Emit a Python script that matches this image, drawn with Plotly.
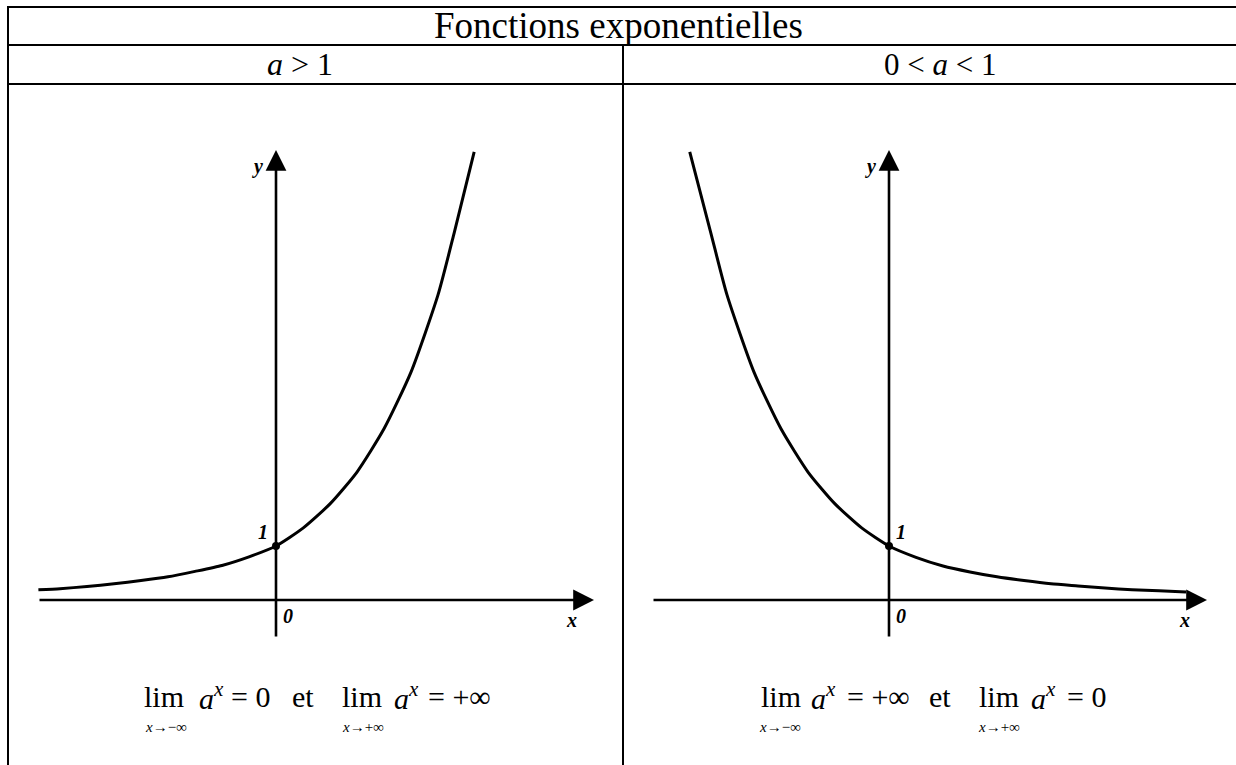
import plotly.graph_objects as go

# ---- data (in axis units; 1 unit = distance from 0 to 1) ----
title_text = "Fonctions exponentielles"
col_headers = ["<i>a</i> > 1", "0 < <i>a</i> < 1"]

x_growth = [-4.4, -4.0, -3.5, -3.0, -2.5, -2.0, -1.5, -1.0, -0.5, 0.0, 0.5, 1.0, 1.5, 2.0, 2.5, 3.0, 3.3, 3.67]
y_growth = [0.19, 0.21, 0.25, 0.30, 0.36, 0.43, 0.53, 0.64, 0.80, 1.00, 1.33, 1.78, 2.37, 3.17, 4.22, 5.65, 6.80, 8.30]

x_decay = [-3.69, -3.3, -3.0, -2.5, -2.0, -1.5, -1.0, -0.5, 0.0, 0.5, 1.0, 1.5, 2.0, 2.5, 3.0, 3.5, 4.0, 4.5, 5.0, 5.5]
y_decay = [8.30, 6.80, 5.65, 4.22, 3.17, 2.37, 1.78, 1.33, 1.00, 0.79, 0.63, 0.52, 0.43, 0.36, 0.30, 0.26, 0.22, 0.19, 0.17, 0.15]

point_x = [0.0]
point_y = [1.0]

W, H = 1236, 765
UNIT = 54.0  # px per unit


def px(x):
    return x / W


def py(y):
    return 1 - y / H


fig = go.Figure()

SERIF = "Liberation Serif, Times New Roman, serif"

panels = [
    dict(xa="x", ya="y", xd=(20, 610), ox=276, xs=x_growth, ys=y_growth,
         xaxis_start=38, xaxis_tip=594, one_dx=-0.24),
    dict(xa="x2", ya="y2", xd=(630, 1230), ox=889, xs=x_decay, ys=y_decay,
         xaxis_start=652, xaxis_tip=1207, one_dx=0.22),
]
oy = 600
yd = (100, 640)

layout_axes = {}
annotations = []
for i, p in enumerate(panels):
    xr = [(p["xd"][0] - p["ox"]) / UNIT, (p["xd"][1] - p["ox"]) / UNIT]
    yr = [(oy - yd[1]) / UNIT, (oy - yd[0]) / UNIT]
    sfx = "" if i == 0 else "2"
    layout_axes["xaxis" + sfx] = dict(domain=[px(p["xd"][0]), px(p["xd"][1])], range=xr,
                                      visible=False, fixedrange=True, anchor="y" + sfx)
    layout_axes["yaxis" + sfx] = dict(domain=[py(yd[1]), py(yd[0])], range=yr,
                                      visible=False, fixedrange=True, anchor="x" + sfx)
    fig.add_trace(go.Scatter(x=p["xs"], y=p["ys"], mode="lines", xaxis=p["xa"], yaxis=p["ya"],
                             line=dict(color="black", width=3, shape="spline", smoothing=0.6),
                             showlegend=False, hoverinfo="skip"))
    fig.add_trace(go.Scatter(x=point_x, y=point_y, mode="markers", xaxis=p["xa"], yaxis=p["ya"],
                             marker=dict(color="black", size=8), showlegend=False, hoverinfo="skip"))
    annotations.append(dict(x=(p["xaxis_tip"] - p["ox"]) / UNIT, y=0, ax=(p["xaxis_start"] - p["ox"]) / UNIT, ay=0,
                            xref=p["xa"], yref=p["ya"], axref=p["xa"], ayref=p["ya"], text="",
                            showarrow=True, arrowhead=2, arrowsize=1.6, arrowwidth=2.6, arrowcolor="black"))
    annotations.append(dict(x=0, y=(oy - 150) / UNIT, ax=0, ay=(oy - 638) / UNIT,
                            xref=p["xa"], yref=p["ya"], axref=p["xa"], ayref=p["ya"], text="",
                            showarrow=True, arrowhead=2, arrowsize=1.6, arrowwidth=2.6, arrowcolor="black"))
    lab_font = dict(family=SERIF, size=20, color="black")
    for txt, lx, ly in [("y", -0.35, 8.02), ("x", 5.48, -0.37), ("0", 0.22, -0.3), ("1", p["one_dx"], 1.26)]:
        annotations.append(dict(x=lx, y=ly, xref=p["xa"], yref=p["ya"], text="<b><i>%s</i></b>" % txt,
                                showarrow=False, font=lab_font, xanchor="center", yanchor="middle"))

# ---- table text ----
annotations.append(dict(x=px(618), y=py(26), xref="paper", yref="paper", text=title_text,
                        showarrow=False, font=dict(family=SERIF, size=37, color="black"),
                        xanchor="center", yanchor="middle"))
annotations.append(dict(x=px(300), y=py(64), xref="paper", yref="paper", text=col_headers[0],
                        showarrow=False, font=dict(family=SERIF, size=32, color="black"),
                        xanchor="center", yanchor="middle"))
annotations.append(dict(x=px(940), y=py(64), xref="paper", yref="paper", text=col_headers[1],
                        showarrow=False, font=dict(family=SERIF, size=31, color="black"),
                        xanchor="center", yanchor="middle"))

# ---- limits ----
big = dict(family=SERIF, size=30, color="black")
small = dict(family=SERIF, size=15, color="black")
ax_html = "<i>a</i><sup><i>x</i></sup>"
pieces = [
    ("lim", 164, big), (ax_html, 211, big), ("= 0", 250, big), ("et", 303, big),
    ("lim", 362, big), (ax_html, 406, big), ("= +∞", 459, big),
    ("<i>x</i>→−∞", 166, small), ("<i>x</i>→+∞", 363, small),
    ("lim", 781, big), (ax_html, 823, big), ("= +∞", 878, big), ("et", 940, big),
    ("lim", 999, big), (ax_html, 1043, big), ("= 0", 1086, big),
    ("<i>x</i>→−∞", 780, small), ("<i>x</i>→+∞", 999, small),
]
for txt, xx, f in pieces:
    yy = 727 if f is small else 696
    annotations.append(dict(x=px(xx), y=py(yy), xref="paper", yref="paper", text=txt,
                            showarrow=False, font=f, xanchor="center", yanchor="middle"))

# ---- table lines ----
lw = 2
shapes = [
    dict(type="line", xref="paper", yref="paper", x0=px(7), x1=1, y0=py(7), y1=py(7)),
    dict(type="line", xref="paper", yref="paper", x0=px(7), x1=1, y0=py(45), y1=py(45)),
    dict(type="line", xref="paper", yref="paper", x0=px(7), x1=1, y0=py(84), y1=py(84)),
    dict(type="line", xref="paper", yref="paper", x0=px(8), x1=px(8), y0=py(6), y1=0),
    dict(type="line", xref="paper", yref="paper", x0=px(623), x1=px(623), y0=py(45), y1=0),
]
for s in shapes:
    s["line"] = dict(color="black", width=lw)

fig.update_layout(width=W, height=H, margin=dict(l=0, r=0, t=0, b=0),
                  paper_bgcolor="white", plot_bgcolor="white",
                  annotations=annotations, shapes=shapes, showlegend=False, **layout_axes)

fig.write_html("out.html", config={"displayModeBar": False},
               post_script="document.body.style.margin='0';document.body.style.overflow='hidden';")
